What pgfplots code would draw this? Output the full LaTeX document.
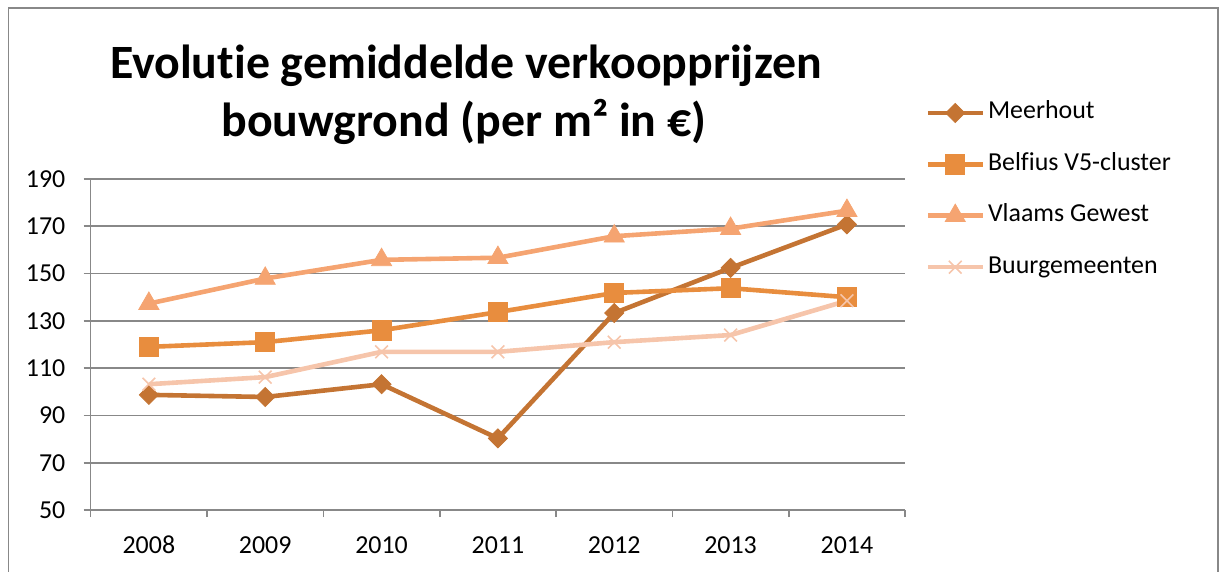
\documentclass[border=0pt]{standalone}
\usepackage{pgfplots}
\pgfplotsset{compat=1.18}
\usepackage{fontspec}
\setmainfont{Carlito}[Ligatures=NoCommon]

\definecolor{cMeer}{HTML}{C47433}
\definecolor{cBelf}{HTML}{E88D3E}
\definecolor{cVlaa}{HTML}{F5A471}
\definecolor{cBuur}{HTML}{F6C5AB}
\definecolor{gridgray}{HTML}{888888}

\begin{document}
\begin{tikzpicture}
\path[use as bounding box] (0,0) rectangle (611.5bp,286bp);
\draw[gridgray, line width=0.8bp] (4.25bp,0) -- (4.25bp,282bp) -- (609bp,282bp) -- (609bp,0);
\node[font=\fontsize{24}{28}\selectfont\bfseries, anchor=base, inner sep=0] at (233bp,246.5bp) {Evolutie gemiddelde verkoopprijzen};
\node[font=\fontsize{24}{28}\selectfont\bfseries, anchor=base, inner sep=0] at (232bp,217.5bp) {bouwgrond (per m² in €)};

\begin{axis}[
  at={(45.35bp,31bp)}, anchor=south west,
  scale only axis, width=407.2bp, height=165.5bp,
  xmin=-0.5, xmax=6.5, ymin=50, ymax=190,
  axis x line*=bottom, axis y line*=left,
  axis line style={gridgray, line width=0.8bp},
  ytick={50,70,...,190},
  ymajorgrids, grid style={gridgray, line width=0.8bp},
  xtick={-0.5,0.5,...,6.5}, xticklabels={,,,,,,,},
  extra x ticks={0,1,2,3,4,5,6},
  extra x tick labels={2008,2009,2010,2011,2012,2013,2014},
  extra x tick style={major tick length=0pt, xticklabel style={anchor=base, yshift=-21.5bp}},
  tick align=outside, major tick length=3.5bp,
  tick style={gridgray, line width=0.8bp},
  ticklabel style={font=\fontsize{13}{15}\selectfont},
  /pgf/number format/assume math mode=true,
  yticklabel style={anchor=east, inner sep=0pt, xshift=-9bp},
  legend style={at={(1.0245,1.237)}, anchor=north west, draw=none, fill=none,
    font=\fontsize{13}{15}\selectfont, inner sep=0pt, row sep=13.7bp, column sep=1.5bp,
    nodes={inner sep=0pt, text height=9bp, text depth=3bp}},
  legend cell align=left,
  legend image code/.code={\draw[mark repeat=2, mark phase=2, #1] plot coordinates {(0bp,0bp) (13.75bp,0bp) (27.5bp,0bp)};},
]
\addplot[cMeer, line width=2.3bp, mark=square*, mark size=3.36bp, mark options={rotate=45, line width=0.4bp, fill=cMeer}]
  coordinates {(0,98.7)(1,97.8)(2,103.2)(3,80.3)(4,133.3)(5,152.4)(6,170.8)};
\addlegendentry{Meerhout}
\addplot[cBelf, line width=2.3bp, mark=square*, mark size=4.8bp, mark options={line width=0.4bp, fill=cBelf}]
  coordinates {(0,119.0)(1,121.0)(2,126.0)(3,133.7)(4,141.8)(5,143.8)(6,140.0)};
\addlegendentry{Belfius V5-cluster}
\addplot[cVlaa, line width=2.3bp, mark=triangle*, mark size=5.8bp, mark options={line width=0.4bp, fill=cVlaa}]
  coordinates {(0,137.3)(1,147.9)(2,155.8)(3,156.7)(4,165.8)(5,169.0)(6,176.6)};
\addlegendentry{Vlaams Gewest}
\addplot[cBuur, line width=2.3bp, mark=x, mark size=4.5bp, mark options={line width=0.8bp}]
  coordinates {(0,103.2)(1,106.2)(2,116.9)(3,116.9)(4,121.0)(5,124.0)(6,138.5)};
\addlegendentry{Buurgemeenten}
\end{axis}
\end{tikzpicture}
\end{document}
